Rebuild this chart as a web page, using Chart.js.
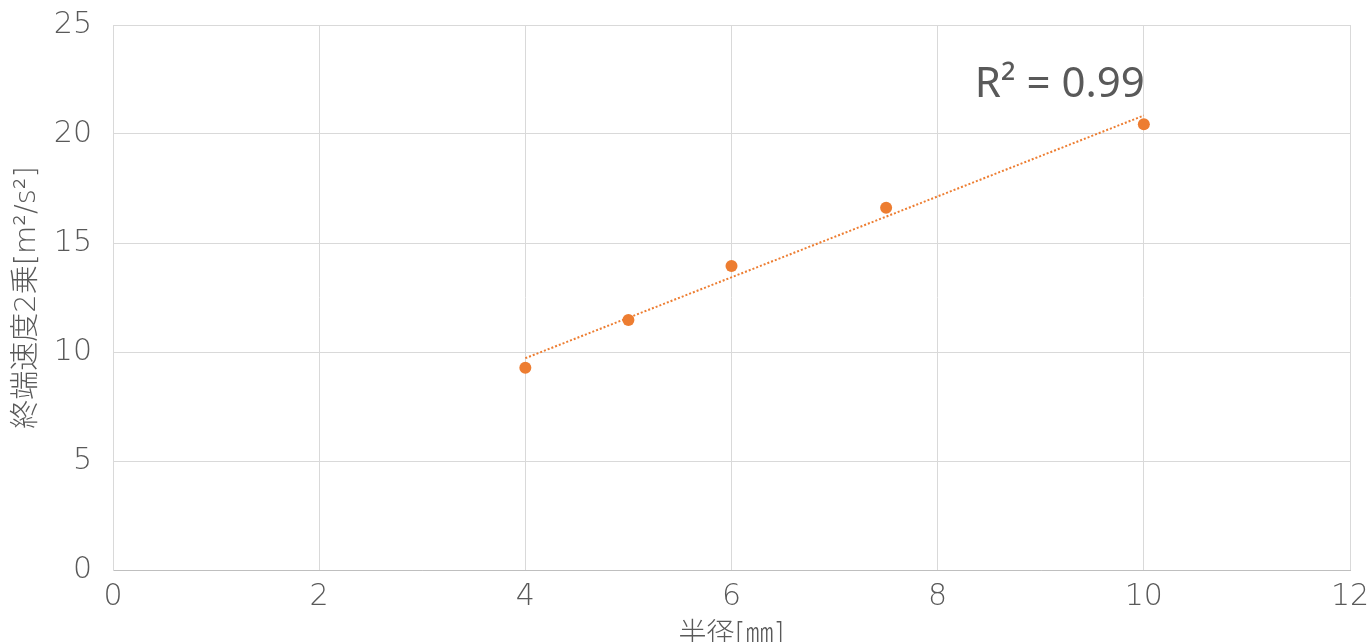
<!DOCTYPE html>
<html>
<head>
<meta charset="utf-8">
<script src="https://cdn.jsdelivr.net/npm/chart.js@4.4.0/dist/chart.umd.min.js"></script>
<style>
  html, body { margin: 0; padding: 0; background: #ffffff; }
  #wrap { width: 1371px; height: 642px; }
</style>
</head>
<body>
<div id="wrap"><canvas id="c" width="1371" height="642"></canvas></div>
<script>
// Radius of sphere [mm] and squared terminal velocity [m^2/s^2]
const radiusMm = [4, 5, 6, 7.5, 10];
const velocitySq = [9.28, 11.47, 13.95, 16.62, 20.45];
const xTicks = [0, 2, 4, 6, 8, 10, 12];
const yTicks = [0, 5, 10, 15, 20, 25];
const rSquaredLabel = 'R² = 0.99';

const ORANGE = '#ED7D31';
const GRID = '#d9d9d9';
const TEXT = '#595959';
const TICK_FONT = "'DejaVu Sans', sans-serif";
const TITLE_FONT = "'DejaVu Sans', 'Noto Sans CJK JP', sans-serif";

// Least-squares linear trendline over the measured points
function linearFit(xs, ys) {
  const n = xs.length;
  const mx = xs.reduce((a, b) => a + b, 0) / n;
  const my = ys.reduce((a, b) => a + b, 0) / n;
  let sxy = 0, sxx = 0;
  for (let i = 0; i < n; i++) {
    sxy += (xs[i] - mx) * (ys[i] - my);
    sxx += (xs[i] - mx) * (xs[i] - mx);
  }
  const slope = sxy / sxx;
  return { slope, intercept: my - slope * mx };
}
const fit = linearFit(radiusMm, velocitySq);
const xMin = Math.min(...radiusMm), xMax = Math.max(...radiusMm);
const trendPoints = [xMin, xMax].map(x => ({ x, y: fit.intercept + fit.slope * x }));

const points = radiusMm.map((x, i) => ({ x, y: velocitySq[i] }));

// Writes the R² text just above the right end of the trendline
const rSquaredPlugin = {
  id: 'rSquared',
  afterDatasetsDraw(chart) {
    const { ctx, scales } = chart;
    const end = trendPoints[trendPoints.length - 1];
    const px = scales.x.getPixelForValue(end.x) + 1;
    const py = scales.y.getPixelForValue(end.y) - 19;
    ctx.save();
    ctx.font = "42px 'Noto Sans', 'Open Sans', sans-serif";
    ctx.fillStyle = TEXT;
    ctx.textAlign = 'right';
    ctx.textBaseline = 'alphabetic';
    ctx.fillText(rSquaredLabel, px, py);
    ctx.restore();
  }
};

new Chart(document.getElementById('c'), {
  type: 'scatter',
  data: {
    datasets: [
      {
        type: 'line',
        label: 'trend',
        data: trendPoints,
        borderColor: ORANGE,
        borderWidth: 2,
        borderDash: [2, 2],
        borderCapStyle: 'butt',
        pointRadius: 0,
        fill: false,
        order: 2
      },
      {
        label: 'data',
        data: points,
        backgroundColor: ORANGE,
        borderColor: ORANGE,
        borderWidth: 0,
        pointRadius: 6,
        pointHoverRadius: 6,
        order: 1
      }
    ]
  },
  options: {
    responsive: false,
    animation: false,
    devicePixelRatio: 1,
    layout: { padding: { left: 0, right: 21, top: 25, bottom: 0 } },
    plugins: {
      legend: { display: false },
      tooltip: { enabled: false }
    },
    scales: {
      x: {
        type: 'linear',
        min: 0,
        max: 12,
        afterBuildTicks: s => { s.ticks = xTicks.map(v => ({ value: v })); },
        afterFit: s => { s.height = 72; s.paddingLeft = 0; s.paddingRight = 0; },
        grid: { color: GRID, lineWidth: 1, drawTicks: false },
        border: { color: '#bfbfbf', width: 1 },
        ticks: {
          padding: 9,
          color: TEXT,
          font: { family: TICK_FONT, size: 30, weight: '200' }
        },
        title: {
          display: true,
          text: '半径[㎜]',
          color: TEXT,
          font: { family: TITLE_FONT, size: 28, weight: '300' },
          padding: { top: 0, bottom: -11 }
        }
      },
      y: {
        type: 'linear',
        min: 0,
        max: 25,
        afterBuildTicks: s => { s.ticks = yTicks.map(v => ({ value: v })); },
        afterFit: s => { s.width = 113; s.paddingTop = 0; s.paddingBottom = 0; },
        grid: { color: GRID, lineWidth: 1, drawTicks: false },
        border: { color: GRID, width: 1 },
        ticks: {
          padding: 21,
          color: TEXT,
          font: { family: TICK_FONT, size: 30, weight: '200' }
        },
        title: {
          display: true,
          text: '終端速度2乗[m²/s²]',
          color: TEXT,
          font: { family: TITLE_FONT, size: 29, weight: '300' },
          padding: { top: 10, bottom: 0 }
        }
      }
    }
  },
  plugins: [rSquaredPlugin]
});
</script>
</body>
</html>
